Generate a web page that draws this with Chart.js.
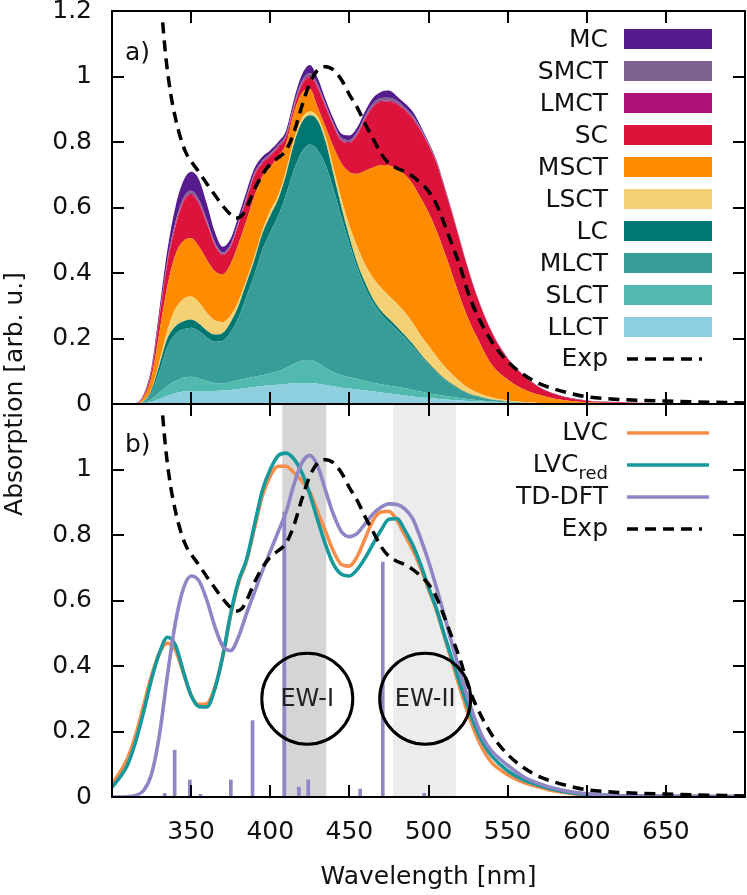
<!DOCTYPE html>
<html>
<head>
<meta charset="utf-8">
<script src="https://cdn.jsdelivr.net/npm/chart.js@4/dist/chart.umd.min.js"></script>
<style>
html,body{margin:0;padding:0;background:#fff;}
#wrap{position:relative;width:747px;height:895px;}
</style>
</head>
<body>
<div id="wrap"><canvas id="c" width="747" height="895"></canvas></div>
<script>
// ---------------- Panel a: cumulative tops of each stacked contribution ----------------
const wlA = [300,315,320,325,330,335,340,345,350,355,360,365,370,375,380,385,390,395,400,405,410,415,420,425,430,435,440,445,450,455,460,465,470,475,480,485,490,495,500,505,510,515,520,525,530,540,550,560,570,580,590,600,620,650,700];

const llctTop = [0,0,0.002,0.007,0.015,0.025,0.033,0.038,0.04,0.04,0.04,0.04,0.041,0.043,0.046,0.049,0.052,0.055,0.057,0.059,0.061,0.063,0.064,0.064,0.062,0.058,0.054,0.05,0.047,0.044,0.041,0.038,0.035,0.032,0.029,0.026,0.023,0.02,0.018,0.016,0.014,0.012,0.011,0.009,0.008,0.006,0.004,0.003,0.002,0.001,0.001,0.001,0.001,0.001,0.001];
const slctTop = [0,0,0.004,0.015,0.035,0.055,0.07,0.08,0.083,0.078,0.07,0.064,0.063,0.067,0.073,0.078,0.083,0.088,0.094,0.1,0.11,0.122,0.132,0.134,0.125,0.11,0.097,0.088,0.082,0.077,0.07,0.065,0.06,0.056,0.053,0.048,0.043,0.038,0.033,0.029,0.025,0.021,0.018,0.015,0.012,0.008,0.005,0.003,0.002,0.001,0.001,0.001,0.001,0.001,0.001];
const mlctTop = [0,0,0.006,0.035,0.1,0.175,0.213,0.228,0.233,0.222,0.203,0.19,0.193,0.22,0.265,0.33,0.395,0.47,0.525,0.575,0.64,0.715,0.77,0.792,0.775,0.73,0.655,0.57,0.49,0.415,0.355,0.31,0.275,0.25,0.227,0.202,0.176,0.147,0.12,0.096,0.075,0.057,0.043,0.031,0.023,0.013,0.007,0.004,0.002,0.001,0.001,0.001,0.001,0.001,0.001];
const lcTop   = [0,0,0.008,0.043,0.12,0.2,0.237,0.252,0.258,0.245,0.224,0.212,0.217,0.25,0.3,0.37,0.44,0.52,0.575,0.625,0.70,0.795,0.86,0.882,0.865,0.80,0.70,0.60,0.51,0.43,0.37,0.32,0.285,0.26,0.236,0.21,0.183,0.153,0.125,0.1,0.078,0.06,0.045,0.033,0.025,0.014,0.008,0.004,0.002,0.001,0.001,0.001,0.001,0.001,0.001];
const lsctTop = [0,0,0.01,0.045,0.13,0.225,0.29,0.32,0.328,0.31,0.278,0.255,0.25,0.27,0.315,0.38,0.45,0.53,0.59,0.637,0.712,0.807,0.872,0.893,0.877,0.815,0.72,0.625,0.545,0.48,0.425,0.385,0.355,0.33,0.307,0.28,0.248,0.21,0.178,0.145,0.115,0.09,0.068,0.05,0.037,0.02,0.011,0.006,0.003,0.002,0.001,0.001,0.001,0.001,0.001];
const msctTop = [0,0.001,0.02,0.083,0.22,0.36,0.455,0.497,0.506,0.48,0.44,0.405,0.395,0.428,0.49,0.56,0.635,0.695,0.722,0.757,0.795,0.89,0.95,0.962,0.905,0.845,0.785,0.735,0.708,0.703,0.712,0.722,0.73,0.728,0.718,0.7,0.672,0.63,0.585,0.53,0.465,0.395,0.325,0.262,0.21,0.12,0.075,0.045,0.028,0.016,0.009,0.005,0.003,0.002,0.001];
const scTop   = [0,0.002,0.025,0.10,0.265,0.43,0.54,0.615,0.638,0.61,0.55,0.485,0.455,0.48,0.55,0.625,0.698,0.735,0.757,0.783,0.815,0.905,0.975,0.998,0.965,0.905,0.848,0.803,0.797,0.822,0.87,0.907,0.922,0.923,0.915,0.897,0.872,0.835,0.79,0.737,0.66,0.58,0.495,0.412,0.337,0.218,0.138,0.087,0.051,0.03,0.017,0.01,0.005,0.003,0.002];
const lmctTop = [0,0.002,0.026,0.102,0.268,0.434,0.545,0.62,0.643,0.615,0.554,0.488,0.458,0.483,0.553,0.628,0.701,0.738,0.76,0.786,0.818,0.909,0.979,1.002,0.969,0.909,0.851,0.806,0.8,0.825,0.874,0.911,0.926,0.927,0.919,0.9,0.875,0.838,0.792,0.739,0.662,0.582,0.497,0.413,0.338,0.219,0.139,0.087,0.051,0.03,0.017,0.01,0.005,0.003,0.002];
const smctTop = [0,0.002,0.027,0.105,0.273,0.44,0.553,0.628,0.651,0.623,0.561,0.494,0.463,0.488,0.558,0.633,0.706,0.743,0.765,0.791,0.823,0.915,0.986,1.01,0.976,0.915,0.857,0.812,0.806,0.831,0.88,0.918,0.934,0.935,0.926,0.906,0.88,0.842,0.795,0.741,0.664,0.583,0.498,0.414,0.339,0.22,0.14,0.088,0.052,0.03,0.017,0.01,0.005,0.003,0.002];
const mcTop   = [0,0.003,0.03,0.114,0.29,0.47,0.60,0.68,0.709,0.685,0.61,0.525,0.48,0.505,0.575,0.65,0.72,0.755,0.775,0.80,0.835,0.93,1.005,1.035,0.995,0.93,0.87,0.825,0.82,0.845,0.895,0.935,0.953,0.957,0.94,0.918,0.893,0.85,0.80,0.745,0.668,0.586,0.50,0.415,0.34,0.221,0.141,0.089,0.053,0.031,0.018,0.011,0.006,0.003,0.002];

// ---------------- Experimental spectrum (both panels) ----------------
const wlExp = [332,334,337,340,342,344,346,348,350,355,360,365,370,375,378,382,386,390,395,400,405,410,415,420,425,430,435,440,445,450,455,460,465,470,475,480,485,490,495,500,505,510,515,520,525,530,540,550,560,570,580,590,600,620,650,700];
const expAbs = [1.165,1.06,0.95,0.875,0.835,0.802,0.775,0.755,0.741,0.708,0.672,0.638,0.605,0.578,0.567,0.575,0.61,0.655,0.70,0.733,0.752,0.775,0.83,0.91,0.98,1.02,1.03,1.02,0.99,0.945,0.905,0.855,0.81,0.765,0.735,0.72,0.71,0.695,0.675,0.65,0.61,0.55,0.485,0.42,0.34,0.28,0.19,0.13,0.09,0.062,0.045,0.032,0.022,0.014,0.009,0.003];

// ---------------- Panel b: simulated spectra ----------------
const wlB = [300,305,310,315,320,325,330,335,340,345,350,355,360,365,370,375,380,385,390,395,400,405,410,415,420,425,430,435,440,445,450,455,460,465,470,475,480,485,490,495,500,505,510,515,520,525,530,535,540,550,560,570,580,590,600,620,650,700];
const lvc    = [0.04,0.075,0.12,0.19,0.28,0.37,0.44,0.47,0.45,0.38,0.31,0.283,0.285,0.335,0.43,0.555,0.655,0.72,0.82,0.92,0.98,1.01,1.01,0.99,0.965,0.93,0.87,0.81,0.75,0.71,0.705,0.735,0.79,0.845,0.87,0.872,0.845,0.80,0.755,0.70,0.635,0.57,0.49,0.41,0.33,0.255,0.19,0.14,0.105,0.068,0.045,0.03,0.018,0.011,0.007,0.003,0.002,0.001];
const lvcRed = [0.03,0.06,0.10,0.17,0.26,0.36,0.44,0.488,0.465,0.385,0.31,0.276,0.275,0.33,0.43,0.56,0.66,0.725,0.83,0.935,1.0,1.042,1.05,1.032,0.99,0.925,0.845,0.77,0.71,0.68,0.675,0.695,0.73,0.773,0.815,0.848,0.85,0.815,0.77,0.71,0.64,0.575,0.495,0.42,0.345,0.275,0.21,0.16,0.125,0.08,0.052,0.035,0.022,0.013,0.008,0.004,0.002,0.001];
const tddft  = [0,0,0.001,0.005,0.02,0.07,0.19,0.37,0.53,0.635,0.675,0.66,0.60,0.52,0.46,0.447,0.49,0.56,0.625,0.69,0.75,0.81,0.87,0.955,1.02,1.043,1.01,0.935,0.862,0.81,0.795,0.805,0.835,0.865,0.885,0.895,0.893,0.88,0.85,0.79,0.72,0.64,0.555,0.465,0.38,0.30,0.23,0.175,0.14,0.097,0.062,0.041,0.026,0.016,0.01,0.004,0.002,0.001];

// TD-DFT stick spectrum
const stickWl  = [333.3,339.6,349.2,355.9,375.1,388.8,408.9,418.1,424.0,456.8,471.1,497.3];
const stickVal = [0.011,0.143,0.052,0.008,0.052,0.233,0.87,0.03,0.052,0.024,0.717,0.011];

// Energy windows (nm) and their labels
const ewLabels = ['EW-I','EW-II'];
const ewRanges = [[407.6,435.4],[477.6,517.3]];
const ewCenters = [[423.4,0.30],[497.9,0.30]];

// Axis ticks
const xTickLabels = [350,400,450,500,550,600,650];
const yTickStep = 0.2;

// ---------------- styles ----------------
const FONT = "'DejaVu Sans', 'Liberation Sans', sans-serif";
Chart.defaults.font.family = FONT;
Chart.defaults.color = '#111';

const layerDefs = [ // bottom -> top
  {label:'LLCT', top: llctTop, color:'#8dcfde'},
  {label:'SLCT', top: slctTop, color:'#52b9ae'},
  {label:'MLCT', top: mlctTop, color:'#389d98'},
  {label:'LC',   top: lcTop,   color:'#007671'},
  {label:'LSCT', top: lsctTop, color:'#f4d175'},
  {label:'MSCT', top: msctTop, color:'#ff8c00'},
  {label:'SC',   top: scTop,   color:'#dc143c'},
  {label:'LMCT', top: lmctTop, color:'#b0107a'},
  {label:'SMCT', top: smctTop, color:'#7d6290'},
  {label:'MC',   top: mcTop,   color:'#561b8d'}
];
const C_LVC = '#f98d4a', C_RED = '#15999c', C_TD = '#9085c5', C_EW1 = '#d5d5d5', C_EW2 = '#ececec';

const pts = (xs, ys) => xs.map((x, i) => ({x: x, y: ys[i]}));

const datasets = [];
layerDefs.forEach((L, i) => {
  datasets.push({
    label: L.label, data: pts(wlA, L.top), yAxisID: 'ya', xAxisID: 'x',
    backgroundColor: L.color, borderColor: 'rgba(0,0,0,0)', borderWidth: 1,
    fill: i === 0 ? 'origin' : '-1', pointRadius: 0, cubicInterpolationMode: 'monotone', order: 10
  });
});
datasets.push({label:'Exp', data: pts(wlExp, expAbs), yAxisID:'ya', xAxisID:'x', borderColor:'#000', borderWidth:3.5,
  borderDash:[11,7], fill:false, pointRadius:0, cubicInterpolationMode:'monotone', order:0});
datasets.push({type:'bar', label:'sticks', data: pts(stickWl, stickVal), yAxisID:'yb', xAxisID:'x', backgroundColor: C_TD,
  barThickness: 3, grouped:false, order:6});
datasets.push({label:'LVC', data: pts(wlB, lvc), yAxisID:'yb', xAxisID:'x', borderColor:C_LVC, borderWidth:3.6, fill:false, pointRadius:0, cubicInterpolationMode:'monotone', order:4});
datasets.push({label:'LVCred', data: pts(wlB, lvcRed), yAxisID:'yb', xAxisID:'x', borderColor:C_RED, borderWidth:3.6, fill:false, pointRadius:0, cubicInterpolationMode:'monotone', order:3});
datasets.push({label:'TD-DFT', data: pts(wlB, tddft), yAxisID:'yb', xAxisID:'x', borderColor:C_TD, borderWidth:3.6, fill:false, pointRadius:0, cubicInterpolationMode:'monotone', order:2});
datasets.push({label:'Exp ', data: pts(wlExp, expAbs), yAxisID:'yb', xAxisID:'x', borderColor:'#000', borderWidth:3.5,
  borderDash:[11,7], fill:false, pointRadius:0, cubicInterpolationMode:'monotone', order:1});

const fmt = v => String(+(+v).toFixed(1));

const decor = {
  id: 'decor',
  beforeDatasetsDraw(chart) {
    const {ctx} = chart; const x = chart.scales.x, yb = chart.scales.yb;
    ctx.save();
    [C_EW1, C_EW2].forEach((col, i) => {
      const x0 = x.getPixelForValue(ewRanges[i][0]), x1 = x.getPixelForValue(ewRanges[i][1]);
      ctx.fillStyle = col;
      ctx.fillRect(x0, yb.top, x1 - x0, yb.bottom - yb.top);
    });
    ctx.restore();
  },
  afterDatasetsDraw(chart) {
    const {ctx} = chart; const x = chart.scales.x, yb = chart.scales.yb;
    ctx.save();
    ewCenters.forEach((c, i) => {
      const cx = x.getPixelForValue(c[0]), cy = yb.getPixelForValue(c[1]);
      ctx.beginPath(); ctx.arc(cx, cy, 45.5, 0, Math.PI * 2);
      ctx.lineWidth = 3; ctx.strokeStyle = '#000'; ctx.stroke();
      ctx.fillStyle = '#222'; ctx.font = '24px ' + FONT; ctx.textAlign = 'center'; ctx.textBaseline = 'middle';
      ctx.fillText(ewLabels[i], cx, cy + 1);
    });
    ctx.restore();
  },
  afterDraw(chart) {
    const {ctx} = chart; const x = chart.scales.x, ya = chart.scales.ya, yb = chart.scales.yb;
    const L = x.left, R = x.right;
    ctx.save();
    // inward tick marks
    ctx.strokeStyle = '#000'; ctx.lineWidth = 2;
    const tl = 12;
    [ya, yb].forEach(ys => {
      x.ticks.forEach(t => {
        const px = Math.round(x.getPixelForValue(t.value));
        ctx.beginPath();
        ctx.moveTo(px, ys.top); ctx.lineTo(px, ys.top + tl);
        ctx.moveTo(px, ys.bottom); ctx.lineTo(px, ys.bottom - tl);
        ctx.stroke();
      });
      ys.ticks.forEach(t => {
        const py = Math.round(ys.getPixelForValue(t.value));
        ctx.beginPath();
        ctx.moveTo(L, py); ctx.lineTo(L + tl, py);
        ctx.moveTo(R, py); ctx.lineTo(R - tl, py);
        ctx.stroke();
      });
      ctx.strokeRect(L, ys.top, R - L, ys.bottom - ys.top);
    });
    // panel letters
    ctx.fillStyle = '#111'; ctx.font = '25px ' + FONT; ctx.textAlign = 'left'; ctx.textBaseline = 'middle';
    ctx.fillText('a)', L + 13, ya.top + 42);
    ctx.fillText('b)', L + 13, yb.top + 41);
    // y title
    ctx.save();
    ctx.translate(15, (ya.top + yb.bottom) / 2 - 10);
    ctx.rotate(-Math.PI / 2);
    ctx.textAlign = 'center'; ctx.textBaseline = 'middle';
    ctx.fillText('Absorption [arb. u.]', 0, 0);
    ctx.restore();
    // legend a
    const tx = R - 137;
    ctx.textAlign = 'right'; ctx.textBaseline = 'middle'; ctx.font = '25px ' + FONT;
    const legA = layerDefs.slice().reverse();
    legA.forEach((Ld, i) => {
      const y = ya.top + 28 + 32 * i;
      ctx.fillStyle = '#111'; ctx.fillText(Ld.label, tx, y + 1);
      ctx.fillStyle = Ld.color; ctx.fillRect(R - 121, y - 10, 88, 20);
    });
    {
      const y = ya.top + 28 + 32 * legA.length;
      ctx.fillStyle = '#111'; ctx.fillText('Exp', tx, y);
      ctx.setLineDash([11, 7]); ctx.lineWidth = 3.5; ctx.strokeStyle = '#000';
      ctx.beginPath(); ctx.moveTo(R - 118, y); ctx.lineTo(R - 43, y); ctx.stroke(); ctx.setLineDash([]);
    }
    // legend b
    const legB = [['LVC', C_LVC, false], ['LVC', C_RED, true], ['TD-DFT', C_TD, false], ['Exp', '#000', false]];
    legB.forEach((it, i) => {
      const y = yb.top + 29 + 32 * i;
      ctx.fillStyle = '#111';
      if (it[2]) {
        ctx.font = '25px ' + FONT; const w1 = ctx.measureText(it[0]).width;
        ctx.font = '18px ' + FONT; const w2 = ctx.measureText('red').width;
        ctx.textAlign = 'left';
        ctx.font = '25px ' + FONT; ctx.fillText(it[0], tx - w1 - w2, y);
        ctx.font = '18px ' + FONT; ctx.fillText('red', tx - w2, y + 9);
        ctx.textAlign = 'right'; ctx.font = '25px ' + FONT;
      } else {
        ctx.fillText(it[0], tx, y);
      }
      ctx.strokeStyle = it[1]; ctx.lineWidth = 3.6;
      if (i === 3) ctx.setLineDash([11, 7]);
      ctx.beginPath(); ctx.moveTo(R - 118, y); ctx.lineTo(i === 3 ? R - 43 : R - 36, y); ctx.stroke();
      ctx.setLineDash([]);
    });
    ctx.restore();
  }
};

const yCommon = (hideTop) => ({
  type: 'linear', position: 'left', stack: 'panels', stackWeight: 1,
  min: 0, max: 1.2,
  grid: {display: false, drawTicks: false}, border: {display: false},
  ticks: {stepSize: yTickStep, autoSkip: false, padding: 20, font: {size: 25}, color: '#111',
          callback: v => (hideTop && Math.abs(v - 1.2) < 1e-6) ? '' : fmt(v)},
  afterFit: s => { s.width = 112; s.paddingTop = 0; s.paddingBottom = 0; s.paddingLeft = 0; s.paddingRight = 0; }
});

new Chart(document.getElementById('c'), {
  type: 'line',
  data: {datasets: datasets},
  options: {
    responsive: false, animation: false, devicePixelRatio: 1,
    layout: {padding: {top: 11, right: 2, left: 0, bottom: 0}},
    plugins: {legend: {display: false}, tooltip: {enabled: false}},
    scales: {
      x: {
        type: 'linear', position: 'bottom', min: 300, max: 700, offset: false,
        grid: {display: false, drawTicks: false}, border: {display: false},
        ticks: {stepSize: 50, autoSkip: false, maxRotation: 0, padding: 20, font: {size: 25}, color: '#111',
                callback: v => xTickLabels.includes(v) ? String(v) : ''},
        title: {display: true, text: 'Wavelength [nm]', font: {size: 25}, color: '#111', padding: {top: 0, bottom: 3}},
        afterFit: s => { s.height = 98; s.paddingLeft = 0; s.paddingRight = 0; s.paddingTop = 0; s.paddingBottom = 0; }
      },
      yb: yCommon(true),
      ya: yCommon(false)
    }
  },
  plugins: [decor]
});
</script>
</body>
</html>
